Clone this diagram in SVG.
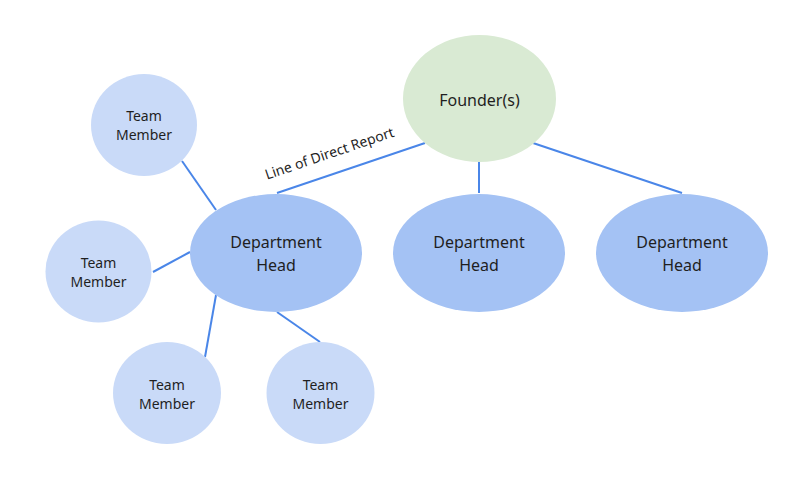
<svg xmlns="http://www.w3.org/2000/svg" width="795" height="492" viewBox="0 0 795 492">
<style>
.lnk{stroke:#4a86e8;stroke-width:2;fill:none}
.t{font-family:"Noto Sans","Open Sans",sans-serif;fill:#1f1f1f;text-anchor:middle}
.big{font-size:16px}
.sm{font-size:14px}
.dh{fill:#a4c2f4}
.tm{fill:#c9daf8}
</style>
<rect width="795" height="492" fill="#ffffff"/>
<g id="connectors">
<line class="lnk" x1="425" y1="143" x2="277" y2="193"/>
<line class="lnk" x1="479" y1="162" x2="479" y2="193"/>
<line class="lnk" x1="533" y1="143" x2="682" y2="193"/>
<line class="lnk" x1="182" y1="161" x2="216" y2="210"/>
<line class="lnk" x1="153" y1="272" x2="190" y2="252"/>
<line class="lnk" x1="216" y1="295" x2="205" y2="357"/>
<line class="lnk" x1="277" y1="312" x2="320" y2="342"/>
<text class="t sm" x="331" y="158" transform="rotate(-18.7 331 158)">Line of Direct Report</text>
</g>
<g id="founder">
<ellipse cx="479.5" cy="98.5" rx="76.5" ry="63.5" fill="#d9ead3"/>
<text class="t big" x="479.5" y="106">Founder(s)</text>
</g>
<g id="dept1">
<ellipse class="dh" cx="276" cy="253" rx="86" ry="59"/>
<text class="t big" x="276" y="248">Department</text>
<text class="t big" x="276" y="271">Head</text>
</g>
<g id="dept2">
<ellipse class="dh" cx="479" cy="253" rx="86" ry="59"/>
<text class="t big" x="479" y="248">Department</text>
<text class="t big" x="479" y="271">Head</text>
</g>
<g id="dept3">
<ellipse class="dh" cx="682" cy="253" rx="86" ry="59"/>
<text class="t big" x="682" y="248">Department</text>
<text class="t big" x="682" y="271">Head</text>
</g>
<g id="tm1">
<ellipse class="tm" cx="144" cy="125" rx="53" ry="51"/>
<text class="t sm" x="144" y="121">Team</text>
<text class="t sm" x="144" y="140">Member</text>
</g>
<g id="tm2">
<ellipse class="tm" cx="98.5" cy="271.5" rx="53" ry="51"/>
<text class="t sm" x="98.5" y="268">Team</text>
<text class="t sm" x="98.5" y="287">Member</text>
</g>
<g id="tm3">
<ellipse class="tm" cx="167" cy="393" rx="54" ry="51"/>
<text class="t sm" x="167" y="390">Team</text>
<text class="t sm" x="167" y="409">Member</text>
</g>
<g id="tm4">
<ellipse class="tm" cx="320.5" cy="393" rx="54" ry="51"/>
<text class="t sm" x="320.5" y="390">Team</text>
<text class="t sm" x="320.5" y="409">Member</text>
</g>
</svg>
